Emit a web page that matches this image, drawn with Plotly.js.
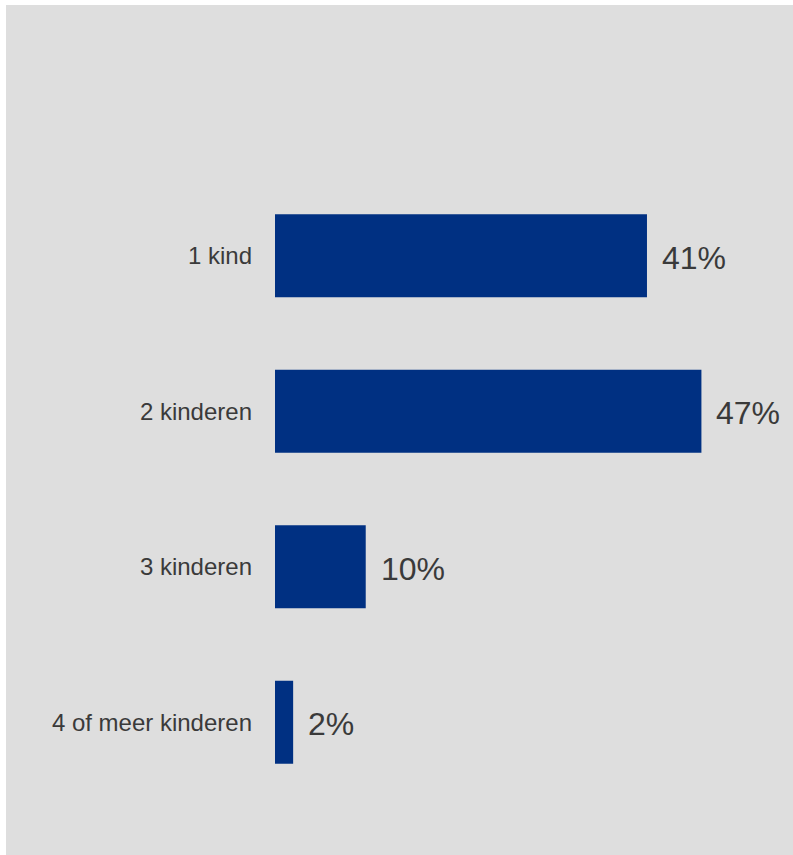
<!DOCTYPE html>
<html>
<head>
<meta charset="utf-8">
<script src="https://cdn.plot.ly/plotly-3.0.1.min.js"></script>
<style>
  html, body { margin: 0; padding: 0; background: #ffffff; width: 793px; height: 855px; overflow: hidden; }
  #chart { position: absolute; left: 6px; top: 5px; width: 787px; height: 850px; }
</style>
</head>
<body>
<div id="chart"></div>
<script>
const categories = ["1 kind", "2 kinderen", "3 kinderen", "4 of meer kinderen"];
const percentages = [41, 47, 10, 2];
const valueLabels = ["41%", "47%", "10%", "2%"];

const barColor = "#003082";
const textColor = "#3a3a3a";
const bgColor = "#dedede";

const trace = {
  type: "bar",
  orientation: "h",
  x: percentages,
  y: categories,
  marker: { color: barColor, line: { width: 0 } },
  hoverinfo: "skip"
};

const annotations = categories.map((c, i) => ({
  x: percentages[i],
  y: c,
  xref: "x",
  yref: "y",
  text: valueLabels[i],
  showarrow: false,
  xanchor: "left",
  yanchor: "middle",
  xshift: 13,
  yshift: -2,
  font: { family: "Liberation Sans, Arial, sans-serif", size: 32, color: textColor }
}));

const layout = {
  width: 787,
  height: 850,
  paper_bgcolor: bgColor,
  plot_bgcolor: bgColor,
  margin: { l: 269, r: 19, t: 173, b: 55, pad: 0 },
  bargap: 0.466,
  showlegend: false,
  font: { family: "Liberation Sans, Arial, sans-serif", color: textColor },
  xaxis: {
    range: [0, 55],
    showgrid: false,
    zeroline: false,
    showline: false,
    showticklabels: false,
    ticks: ""
  },
  yaxis: {
    type: "category",
    categoryorder: "array",
    categoryarray: categories,
    range: [3.5, -0.5],
    showgrid: false,
    zeroline: false,
    showline: false,
    ticks: "",
    ticklabelstandoff: 22,
    tickfont: { family: "Liberation Sans, Arial, sans-serif", size: 24, color: textColor }
  },
  annotations: annotations
};

Plotly.newPlot("chart", [trace], layout, { staticPlot: true, displayModeBar: false });
</script>
</body>
</html>
